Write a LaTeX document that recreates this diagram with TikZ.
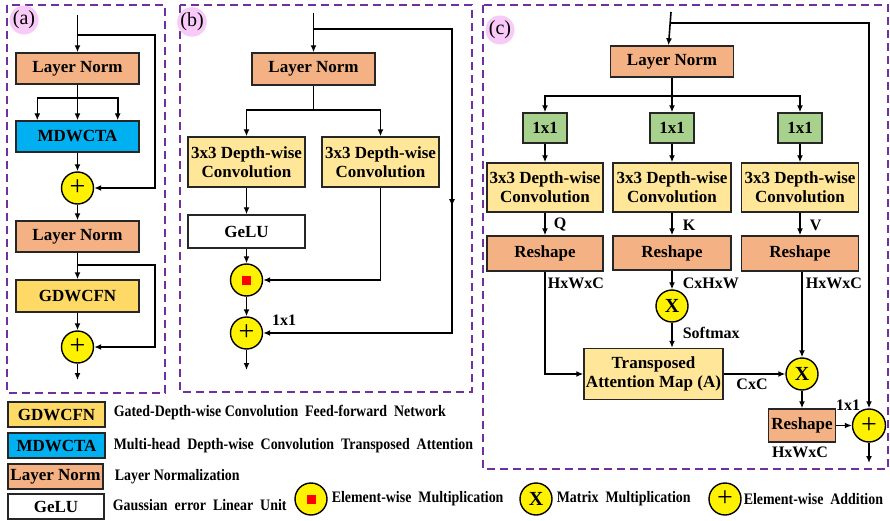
\documentclass[tikz,border=0pt]{standalone}
\usepackage{fontspec}
\setmainfont{Liberation Serif}
\usepackage{tikz}
\usetikzlibrary{arrows.meta}
\usetikzlibrary{positioning}
\usetikzlibrary{calc}
\usetikzlibrary{decorations.markings}
\definecolor{normcol}{RGB}{244,177,131}
\definecolor{attncol}{RGB}{0,176,240}
\definecolor{ffncol}{RGB}{255,217,102}
\definecolor{convcol}{RGB}{255,230,153}
\definecolor{pwcol}{RGB}{169,209,142}
\definecolor{panelcol}{RGB}{112,48,160}
\definecolor{tagcol}{RGB}{247,202,247}
\newcommand{\lgword}[1]{\scalebox{0.87}[1]{#1}}
\newcommand{\addsym}{{\fontsize{28}{28}\selectfont\mdseries +}}
\tikzset{
	>={Latex[length=7pt,width=6pt]},
	panel/.style={draw=panelcol, line width=1.8pt, dash pattern=on 8pt off 5pt},
	tag/.style={circle, fill=tagcol, minimum size=29pt, inner sep=0pt,
		font=\fontsize{20}{22}\selectfont},
	block/.style={draw=black!85, line width=1.4pt, inner sep=0pt, align=center,
		font=\fontsize{17}{19}\selectfont\bfseries},
	normbox/.style={block, fill=normcol},
	attnbox/.style={block, fill=attncol},
	ffnbox/.style={block, fill=ffncol},
	convbox/.style={block, fill=convcol},
	pwbox/.style={block, fill=pwcol},
	plainbox/.style={block, fill=white},
	opnode/.style={circle, draw=black, line width=1.4pt, fill=yellow, minimum size=32pt,
		inner sep=0pt, font=\fontsize{20}{20}\selectfont\bfseries},
	lbl/.style={inner sep=0pt, font=\fontsize{16}{18}\selectfont\bfseries},
	lgtext/.style={inner sep=0pt, anchor=west, font=\fontsize{16}{18}\selectfont\bfseries},
	flow/.style={->},
	midarrow/.style={postaction={decorate},
		decoration={markings,mark=at position .5 with {\arrow{>}}}},
}

\begin{document}
\begin{tikzpicture}[line width=1.6pt, x=1pt, y=-1pt]
	\useasboundingbox (0,0) rectangle (890,521);
	% (a)
	\draw[panel] (7,5) rectangle (165,393);
	\node[tag] (tagA) at (24,20) {(a)};
	\node[normbox, minimum width=123, minimum height=31] (lnA1) at (77.5,68.5) {Layer Norm};
	\node[attnbox, minimum width=123, minimum height=31] (mdA) at (77.5,136.5) {MDWCTA};
	\node[opnode] (addA1) at (77.5,188) {\addsym};
	\node[normbox, minimum width=123, minimum height=31] (lnA2) at (77.5,236.5) {Layer Norm};
	\node[ffnbox, minimum width=123, minimum height=32] (gdA) at (77.5,296) {GDWCFN};
	\node[opnode] (addA2) at (77.5,347) {\addsym};
	\coordinate (inA) at (77.5,15);
	\coordinate (brA1) at (77.5,35);
	\coordinate (skA1) at (155,35);
	\coordinate (spA) at (77.5,98);
	\coordinate (brA2) at (77.5,265);
	\coordinate (skA2) at (155,265);
	\coordinate (outA) at (77.5,380);
	\draw[flow] (inA) -- (lnA1);
	\draw[flow] (brA1) -- (skA1) |- (addA1);
	\draw[flow] (lnA1) -- (mdA);
	\draw[flow] (spA) -| ([xshift=22]mdA.north west);
	\draw[flow] (spA) -| ([xshift=-22]mdA.north east);
	\draw[flow] (mdA) -- (addA1);
	\draw[flow] (addA1) -- (lnA2);
	\draw[flow] (lnA2) -- (gdA);
	\draw[flow] (brA2) -- (skA2) |- (addA2);
	\draw[flow] (gdA) -- (addA2);
	\draw[flow] (addA2) -- (outA);
	% (b)
	\draw[panel] (180,5) rectangle (472,392);
	\node[tag] (tagB) at (192,22) {(b)};
	\node[normbox, minimum width=123, minimum height=32] (lnB) at (313.5,69) {Layer Norm};
	\node[convbox, minimum width=117, minimum height=50] (cvB1) at (246.5,162) {3x3 Depth-wise\\Convolution};
	\node[convbox, minimum width=117, minimum height=50] (cvB2) at (380.5,162) {3x3 Depth-wise\\Convolution};
	\node[plainbox, minimum width=117, minimum height=33] (geB) at (246.5,231.5) {GeLU};
	\node[opnode] (mulB) at (246.5,280) {\textcolor{red}{\rule{9pt}{9pt}}};
	\node[opnode] (addB) at (246.5,333) {\addsym};
	\node[lbl] (kB) at (284,320) {1x1};
	\coordinate (inB) at (313.5,13);
	\coordinate (brB) at (313.5,29);
	\coordinate (skB) at (452,29);
	\coordinate (spB) at (313.5,110);
	\coordinate (outB) at (246.5,370);
	\draw[flow] (inB) -- (lnB);
	\draw[flow, midarrow] (brB) -- (skB) |- (addB);
	\draw (lnB) -- (spB);
	\draw[flow] (spB) -| (cvB1);
	\draw[flow] (spB) -| (cvB2);
	\draw[flow] (cvB1) -- (geB);
	\draw[flow] (geB) -- (mulB);
	\draw[flow] (cvB2) |- (mulB);
	\draw[flow] (mulB) -- (addB);
	\draw[flow] (addB) -- (outB);
	% (c)
	\draw[panel] (483,5) rectangle (888,469);
	\node[tag] (tagC) at (500,30) {(c)};
	\node[normbox, minimum width=123, minimum height=31] (lnC) at (672,61.5) {Layer Norm};
	\node[pwbox, minimum width=44, minimum height=30] (pwC1) at (545,128) {1x1};
	\node[pwbox, minimum width=44, minimum height=30] (pwC2) at (672,128) {1x1};
	\node[pwbox, minimum width=44, minimum height=30] (pwC3) at (800,128) {1x1};
	\node[convbox, minimum width=116, minimum height=49] (cvC1) at (545,187.5) {3x3 Depth-wise\\Convolution};
	\node[convbox, minimum width=118, minimum height=49] (cvC2) at (672,187.5) {3x3 Depth-wise\\Convolution};
	\node[convbox, minimum width=117, minimum height=49] (cvC3) at (800,187.5) {3x3 Depth-wise\\Convolution};
	\node[normbox, minimum width=116, minimum height=35] (rsC1) at (545,253.5) {Reshape};
	\node[normbox, minimum width=118, minimum height=34] (rsC2) at (672,253) {Reshape};
	\node[normbox, minimum width=117, minimum height=35] (rsC3) at (800,253.5) {Reshape};
	\node[opnode] (mxC1) at (672,306) {X};
	\node[convbox, minimum width=139, minimum height=51] (tam) at (653.5,374) {Transposed\\Attention Map (A)};
	\node[opnode] (mxC2) at (802,374) {X};
	\node[normbox, minimum width=67, minimum height=33] (rsC4) at (802,425.5) {Reshape};
	\node[opnode, minimum size=33pt] (addC) at (869,425.5) {\addsym};
	\node[lbl, anchor=west] (qC) at (553,225) {Q};
	\node[lbl, anchor=west] (kC) at (682,225) {K};
	\node[lbl, anchor=west] (vC) at (809,225) {V};
	\node[lbl, anchor=west] (hwC1) at (547,283) {HxWxC};
	\node[lbl, anchor=west] (chwC) at (682,283) {CxHxW};
	\node[lbl, anchor=west] (hwC3) at (805,283) {HxWxC};
	\node[lbl, anchor=west] (smC) at (682,333) {Softmax};
	\node[lbl] (ccC) at (752,384) {CxC};
	\node[lbl] (pwC4) at (848,405) {1x1};
	\node[lbl] (hwC4) at (800,452) {HxWxC};
	\coordinate (inC) at (671,12);
	\coordinate (brC) at (670,23);
	\coordinate (skC) at (869,23);
	\coordinate (spC) at (672,96);
	\coordinate (outC) at (869,463);
	\draw[flow] (inC) -- ([xshift=-3.5]lnC.north);
	\draw[flow] (brC) -- (skC) -- (addC);
	\draw (lnC) -- (spC);
	\draw[flow] (spC) -| (pwC1);
	\draw[flow] (spC) -- (pwC2);
	\draw[flow] (spC) -| (pwC3);
	\foreach \i in {1,2,3}{
		\draw[flow] (pwC\i) -- (cvC\i);
		\draw[flow] (cvC\i) -- (rsC\i);
	}
	\draw[flow] (rsC1) |- (tam);
	\draw[flow] (rsC2) -- (mxC1);
	\draw[flow] (mxC1) -- (mxC1 |- tam.north);
	\draw[flow] (rsC3.south -| mxC2) -- (mxC2);
	\draw[flow] (tam) -- (mxC2);
	\draw[flow] (mxC2) -- (rsC4);
	\draw[flow] (rsC4) -- (addC);
	\draw[flow] (addC) -- (outC);
	% legend
	\node[ffnbox, minimum width=97, minimum height=25] (lgGd) at (56.5,414.5) {GDWCFN};
	\node[attnbox, minimum width=97, minimum height=25] (lgMd) at (56.5,445.5) {MDWCTA};
	\node[normbox, minimum width=95, minimum height=25] (lgLn) at (55.5,476.5) {Layer Norm};
	\node[plainbox, minimum width=96, minimum height=25] (lgGe) at (56,506.5) {GeLU};
	\node[lgtext] (lgGdT) at (113,413) {\lgword{Gated-Depth-wise Convolution\ \ Feed-forward\ \ Network}};
	\node[lgtext] (lgMdT) at (113,446) {\lgword{Multi-head\ \ Depth-wise\ \ Convolution\ \ Transposed\ \ Attention}};
	\node[lgtext] (lgLnT) at (114,477) {\lgword{Layer Normalization}};
	\node[lgtext] (lgGeT) at (112,505) {\lgword{Gaussian\ \ error\ \ Linear\ \ Unit}};
	\node[opnode] (lgMul) at (311,499) {\textcolor{red}{\rule{9pt}{9pt}}};
	\node[lgtext] (lgMulT) at (331,499) {\lgword{Element-wise\ \ Multiplication}};
	\node[opnode] (lgMx) at (536,499) {X};
	\node[lgtext] (lgMxT) at (556,499) {\lgword{Matrix\ \ Multiplication}};
	\node[opnode] (lgAdd) at (725,499) {\addsym};
	\node[lgtext] (lgAddT) at (743,499) {\lgword{Element-wise\ \ Addition}};
\end{tikzpicture}
\end{document}
